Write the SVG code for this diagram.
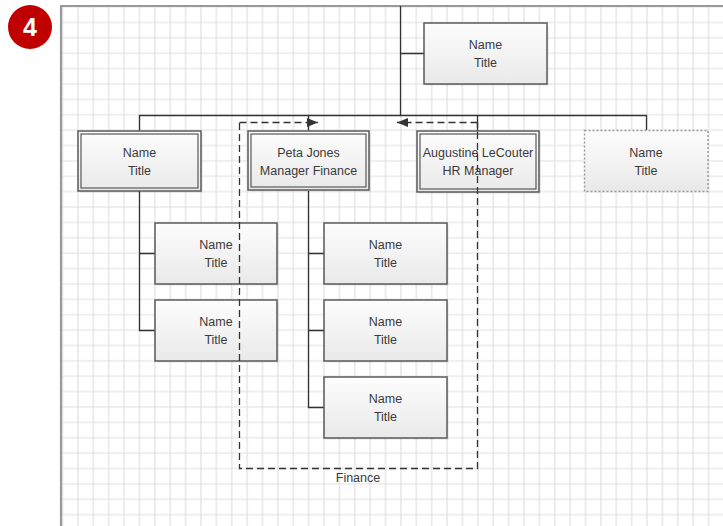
<svg xmlns="http://www.w3.org/2000/svg" width="723" height="526" viewBox="0 0 723 526">
  <defs>
    <pattern id="grid" patternUnits="userSpaceOnUse" x="54.9" y="-0.6" width="15.38" height="15.38">
      <path d="M7.69 0V15.38M0 7.69H15.38" stroke="#e0e0e0" stroke-width="1.2" fill="none"/>
    </pattern>
    <linearGradient id="boxfill" x1="0" y1="0" x2="0" y2="1">
      <stop offset="0" stop-color="#fdfdfd"/>
      <stop offset="1" stop-color="#e9e9e9"/>
    </linearGradient>
    <marker id="arrow" viewBox="0 0 10 8" refX="10" refY="4" markerWidth="11" markerHeight="9" markerUnits="userSpaceOnUse" orient="auto">
      <path d="M0 0L10 4L0 8Z" fill="#333"/>
    </marker>
    <style>
      .box { fill: url(#boxfill); stroke: #595959; stroke-width: 1.5; }
      .inner { fill: none; stroke: #595959; stroke-width: 1.2; }
      .dotted { fill: url(#boxfill); stroke: #999; stroke-width: 1.5; stroke-dasharray: 2 2; }
      .shadow { fill: #000; opacity: 0.06; }
      .lbl { font-family: "Liberation Sans", Arial, sans-serif; font-size: 12.5px; fill: #3a3a3a; text-anchor: middle; }
      .conn { stroke: #333; stroke-width: 1.3; fill: none; }
      .group { stroke: #333; stroke-width: 1.3; fill: none; stroke-dasharray: 7 4; }
    </style>
  </defs>

  <rect x="0" y="0" width="723" height="526" fill="#fff"/>
  <rect x="62" y="7" width="661" height="519" fill="url(#grid)"/>
  <path d="M61 526V6H723" stroke="#999" stroke-width="2.2" fill="none"/>

  <g id="badge">
    <circle cx="30" cy="27" r="22" fill="#c00000"/>
    <text x="30" y="36" font-family="Liberation Sans, Arial, sans-serif" font-size="25" font-weight="bold" fill="#fff" text-anchor="middle">4</text>
  </g>

  <g id="connectors">
    <path class="conn" d="M400.5 6V115.5M400.5 53.5H424"/>
    <path class="conn" d="M139.5 131V115.5H646.5V130"/>
    <path class="conn" d="M308.5 115.5V131M477.5 115.5V131"/>
    <path class="conn" d="M139.5 191V330.5H155M139.5 253.5H155"/>
    <path class="conn" d="M308.5 191V407.5H324M308.5 253.5H324M308.5 330.5H324"/>
  </g>

  <g id="node-top">
    <rect class="shadow" x="426" y="25" width="123" height="61"/>
    <rect class="box" x="424" y="23" width="123" height="61"/>
    <text class="lbl" x="485.5" y="49">Name</text>
    <text class="lbl" x="485.5" y="66.5">Title</text>
  </g>

  <g id="node-l2-1">
    <rect class="shadow" x="80" y="133" width="123" height="60"/>
    <rect class="box" x="78" y="131" width="123" height="60"/>
    <rect class="inner" x="81" y="134" width="117" height="54"/>
    <text class="lbl" x="139.5" y="157">Name</text>
    <text class="lbl" x="139.5" y="174.5">Title</text>
  </g>

  <g id="node-peta">
    <rect class="shadow" x="250" y="133" width="121" height="59"/>
    <rect class="box" x="248" y="131" width="121" height="59"/>
    <rect class="inner" x="251" y="134" width="115" height="53"/>
    <text class="lbl" x="308.5" y="157">Peta Jones</text>
    <text class="lbl" x="308.5" y="174.5">Manager Finance</text>
  </g>

  <g id="node-hr">
    <rect class="shadow" x="419" y="133" width="122" height="61"/>
    <rect class="box" x="417" y="131" width="122" height="61"/>
    <rect class="inner" x="420" y="134" width="116" height="55"/>
    <text class="lbl" x="478" y="157">Augustine LeCouter</text>
    <text class="lbl" x="478" y="174.5">HR Manager</text>
  </g>

  <g id="node-l2-4">
    <rect class="dotted" x="584.5" y="130.5" width="123.5" height="61"/>
    <text class="lbl" x="646" y="157">Name</text>
    <text class="lbl" x="646" y="174.5">Title</text>
  </g>

  <g id="node-l3-a1">
    <rect class="shadow" x="157" y="225" width="122" height="61"/>
    <rect class="box" x="155" y="223" width="122" height="61"/>
    <text class="lbl" x="216" y="249">Name</text>
    <text class="lbl" x="216" y="266.5">Title</text>
  </g>
  <g id="node-l3-a2">
    <rect class="shadow" x="157" y="302" width="122" height="61"/>
    <rect class="box" x="155" y="300" width="122" height="61"/>
    <text class="lbl" x="216" y="326">Name</text>
    <text class="lbl" x="216" y="343.5">Title</text>
  </g>

  <g id="node-l3-b1">
    <rect class="shadow" x="326" y="225" width="123" height="61"/>
    <rect class="box" x="324" y="223" width="123" height="61"/>
    <text class="lbl" x="385.5" y="249">Name</text>
    <text class="lbl" x="385.5" y="266.5">Title</text>
  </g>
  <g id="node-l3-b2">
    <rect class="shadow" x="326" y="302" width="123" height="61"/>
    <rect class="box" x="324" y="300" width="123" height="61"/>
    <text class="lbl" x="385.5" y="326">Name</text>
    <text class="lbl" x="385.5" y="343.5">Title</text>
  </g>
  <g id="node-l3-b3">
    <rect class="shadow" x="326" y="379" width="123" height="61"/>
    <rect class="box" x="324" y="377" width="123" height="61"/>
    <text class="lbl" x="385.5" y="403">Name</text>
    <text class="lbl" x="385.5" y="420.5">Title</text>
  </g>

  <g id="finance-group">
    <path class="group" d="M239.5 123V468.5H477.5V123"/>
    <path class="group" d="M239.5 122.5H318" marker-end="url(#arrow)"/>
    <path class="group" d="M477.5 122.5H397" marker-end="url(#arrow)"/>
    <text class="lbl" x="358" y="482" font-size="12">Finance</text>
  </g>
</svg>
